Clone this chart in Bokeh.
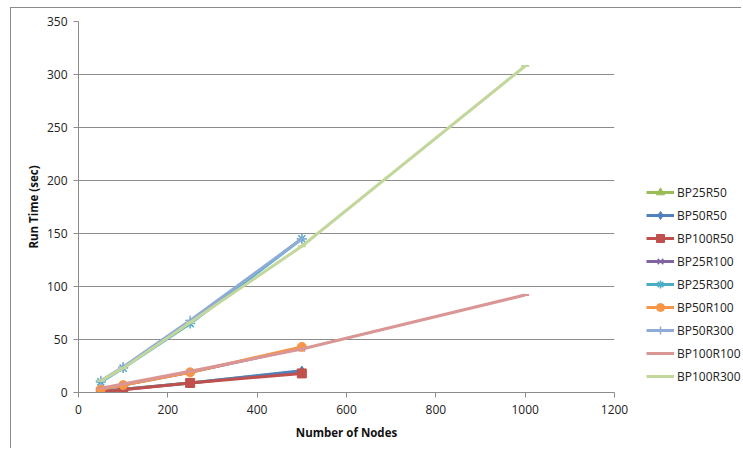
from bokeh.plotting import figure
from bokeh.models import Legend, LegendItem, FixedTicker, Range1d
from bokeh.layouts import row
from bokeh.embed import file_html
from bokeh.resources import INLINE

# ---- data ----
x4 = [50, 100, 250, 500]
x5 = [50, 100, 250, 500, 1000]
series_names = ["BP25R50", "BP50R50", "BP100R50", "BP25R100", "BP25R300",
                "BP50R100", "BP50R300", "BP100R100", "BP100R300"]
bp25r50 = [1, 3, 9, 20]
bp50r50 = [1, 3, 9, 20.5]
bp100r50 = [0.5, 2.5, 9, 18]
bp25r100 = [3, 7, 19, 42]
bp25r300 = [10, 23, 65, 145]
bp50r100 = [3, 7, 19, 43]
bp50r300 = [11, 24, 68, 145]
bp100r100 = [4, 8, 20, 41, 92]
bp100r300 = [11, 23, 66, 138, 308]
x_ticks = [0, 200, 400, 600, 800, 1000, 1200]
y_ticks = [0, 50, 100, 150, 200, 250, 300, 350]

series = [
    (bp25r50, x4, "#9BBB59", "triangle", 9),
    (bp50r50, x4, "#4F81BD", "diamond", 9),
    (bp100r50, x4, "#C0504D", "square", 9),
    (bp25r100, x4, "#8064A2", "x", 9),
    (bp25r300, x4, "#4BACC6", "asterisk", 10),
    (bp50r100, x4, "#F79646", "circle", 9),
    (bp50r300, x4, "#8EACD6", "cross", 10),
    (bp100r100, x5, "#D99694", "dash", 8),
    (bp100r300, x5, "#C3D69B", "dash", 8),
]

FONT = "Open Sans"
GRID = "#8C8C8C"
H = 440

p = figure(width=624, height=H, output_backend="svg", toolbar_location=None,
           x_range=Range1d(0, 1200), y_range=Range1d(0, 350),
           min_border_left=67, min_border_right=21, min_border_top=13,
           min_border_bottom=56)
p.outline_line_color = None
p.background_fill_color = "white"
p.border_fill_color = "white"

p.xgrid.grid_line_color = None
p.ygrid.grid_line_color = GRID
p.ygrid.grid_line_width = 1

p.xaxis.ticker = FixedTicker(ticks=x_ticks)
p.yaxis.ticker = FixedTicker(ticks=y_ticks)
for ax in (p.xaxis[0], p.yaxis[0]):
    ax.axis_line_color = GRID
    ax.major_tick_line_color = GRID
    ax.major_tick_out = 5
    ax.major_tick_in = 0
    ax.minor_tick_line_color = None
    ax.major_label_text_font = FONT
    ax.major_label_text_font_size = "12px"
    ax.major_label_text_color = "#222222"
    ax.axis_label_text_font = FONT
    ax.axis_label_text_font_size = "11.5px"
    ax.axis_label_text_font_style = "bold"
    ax.axis_label_text_color = "#111111"
p.xaxis.axis_label = "Number of Nodes"
p.yaxis.axis_label = "Run Time (sec)"
p.xaxis.major_label_standoff = 7
p.yaxis.major_label_standoff = 6
p.xaxis.axis_label_standoff = 8
p.yaxis.axis_label_standoff = 3

# legend panel: a second, axis-less figure whose ranges keep its copies of the
# series out of view, so only the legend shows
lg = figure(width=106, height=H, output_backend="svg", toolbar_location=None,
            x_range=Range1d(-2, -1), y_range=Range1d(0, 350),
            min_border_left=0, min_border_right=0, min_border_top=0,
            min_border_bottom=0)
lg.axis.visible = False
lg.grid.grid_line_color = None
lg.outline_line_color = None
lg.border_fill_color = "white"
lg.background_fill_color = "white"


def draw(fig, xs, ys, color, marker, size):
    ln = fig.line(xs, ys, line_color=color, line_width=3)
    if marker == "dash":
        sc = fig.scatter(xs, ys, marker=marker, size=size, line_color=color,
                         fill_color=color, line_width=2)
    elif marker in ("x", "asterisk", "cross"):
        sc = fig.scatter(xs, ys, marker=marker, size=size, line_color=color,
                         fill_color=None, line_width=1.5)
    else:
        sc = fig.scatter(xs, ys, marker=marker, size=size, line_color=color,
                         fill_color=color)
    return ln, sc


items = []
for (name, (ys, xs, color, marker, size)) in zip(series_names, series):
    draw(p, xs, ys, color, marker, size)
    ln, sc = draw(lg, xs, ys, color, marker, size)
    items.append(LegendItem(label=name, renderers=[ln, sc]))

legend = Legend(items=items, location=(11, 6), orientation="vertical")
legend.border_line_color = None
legend.background_fill_alpha = 0
legend.label_text_font = FONT
legend.label_text_font_size = "12px"
legend.label_text_color = "#222222"
legend.glyph_width = 28
legend.glyph_height = 20
legend.label_height = 20
legend.spacing = 3
legend.label_standoff = 3
legend.padding = 0
legend.margin = 0
lg.add_layout(legend, "center")

layout = row(p, lg)
layout.styles = {"border-left": "1px solid #8C8C8C", "border-top": "1px solid #8C8C8C",
                 "margin-left": "10px", "margin-top": "7px"}

open("out.html", "w").write(file_html(layout, INLINE))
